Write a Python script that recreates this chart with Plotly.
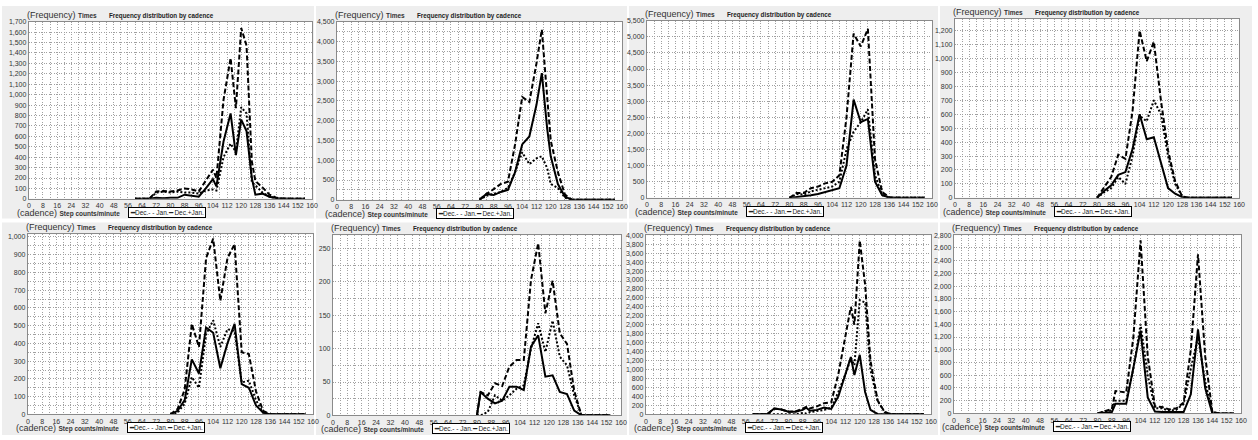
import plotly.graph_objects as go

W, H = 1258, 440

# ---------------- data ----------------
# Panel 1
p1_x   = [60, 64, 68, 72, 76, 80, 84, 88, 92, 96, 100, 104, 106, 110, 114, 117, 120, 123, 126, 128, 132, 136, 140, 144, 148, 152, 156]
p1_dec = [0, 0, 0, 10, 5, 10, 10, 40, 30, 20, 100, 190, 120, 550, 820, 420, 760, 650, 200, 40, 50, 20, 5, 0, 0, 0, 0]
p1_jan = [0, 0, 0, 60, 70, 60, 70, 60, 60, 50, 80, 90, 80, 400, 530, 450, 880, 820, 160, 130, 60, 20, 5, 0, 0, 0, 0]
p1_tot = [0, 0, 0, 70, 75, 70, 80, 100, 90, 70, 180, 280, 200, 950, 1350, 870, 1640, 1470, 360, 170, 110, 40, 10, 0, 0, 0, 0]

# Panel 2
p2_x   = [80, 84, 88, 92, 96, 100, 104, 108, 112, 115, 118, 120, 124, 128, 132, 136, 140, 144, 148, 152, 156]
p2_dec = [0, 150, 120, 200, 250, 700, 1400, 1600, 2400, 3200, 1800, 1100, 400, 80, 0, 0, 0, 0, 0, 0, 0]
p2_jan = [0, 100, 150, 200, 300, 700, 1200, 900, 1050, 1100, 800, 400, 300, 50, 0, 0, 0, 0, 0, 0, 0]
p2_tot = [0, 150, 270, 400, 460, 1400, 2600, 2470, 3450, 4300, 2600, 1500, 700, 130, 0, 0, 0, 0, 0, 0, 0]

# Panel 3
p3_x   = [80, 84, 88, 92, 96, 100, 104, 108, 112, 116, 120, 124, 128, 132, 136, 140, 144, 148, 152, 156]
p3_dec = [0, 20, 50, 80, 120, 180, 250, 300, 1000, 3050, 2350, 2450, 500, 80, 10, 0, 0, 0, 0, 0]
p3_jan = [0, 120, 100, 200, 250, 300, 350, 500, 1500, 2050, 2350, 2750, 700, 100, 10, 0, 0, 0, 0, 0]
p3_tot = [0, 150, 150, 300, 350, 450, 500, 700, 2500, 5100, 4700, 5250, 1200, 180, 20, 0, 0, 0, 0, 0]

# Panel 4
p4_x   = [80, 84, 88, 92, 96, 100, 104, 108, 112, 116, 120, 124, 128, 132, 136, 140, 144, 148, 152, 156]
p4_dec = [0, 50, 90, 165, 185, 350, 600, 420, 435, 250, 70, 30, 5, 0, 0, 0, 0, 0, 0, 0]
p4_jan = [0, 40, 70, 150, 100, 300, 590, 550, 700, 600, 300, 100, 10, 0, 0, 0, 0, 0, 0, 0]
p4_tot = [0, 80, 150, 310, 280, 620, 1200, 980, 1120, 700, 340, 120, 10, 0, 0, 0, 0, 0, 0, 0]

# Panel 5
p5_x   = [80, 84, 88, 92, 96, 100, 104, 108, 112, 116, 120, 124, 128, 132, 136, 140, 144, 148, 152, 156]
p5_dec = [0, 20, 80, 310, 230, 490, 460, 260, 400, 510, 170, 150, 50, 10, 0, 0, 0, 0, 0, 0]
p5_jan = [0, 10, 60, 210, 150, 450, 530, 380, 480, 470, 180, 190, 80, 10, 0, 0, 0, 0, 0, 0]
p5_tot = [0, 30, 140, 510, 380, 880, 990, 640, 880, 960, 350, 340, 130, 20, 0, 0, 0, 0, 0, 0]

# Panel 6
p6_x   = [80, 82, 86, 90, 94, 98, 102, 106, 110, 114, 118, 122, 126, 130, 134, 138, 142, 146, 150, 154]
p6_dec = [0, 35, 25, 18, 22, 43, 43, 38, 103, 120, 58, 60, 35, 32, 7, 0, 0, 0, 0, 0]
p6_jan = [0, 0, 5, 30, 22, 30, 40, 45, 100, 138, 95, 142, 88, 75, 30, 0, 0, 0, 0, 0]
p6_tot = [0, 35, 30, 48, 44, 73, 83, 83, 203, 258, 153, 202, 123, 107, 37, 0, 0, 0, 0, 0]

# Panel 7
p7_x   = [60, 64, 68, 72, 76, 80, 84, 88, 90, 92, 96, 100, 104, 108, 112, 115, 117, 120, 123, 126, 130, 134, 138, 142, 146, 150, 156]
p7_dec = [0, 0, 0, 130, 110, 60, 60, 100, 150, 80, 100, 150, 120, 400, 900, 1280, 880, 1330, 500, 100, 10, 0, 0, 0, 0, 0, 0]
p7_jan = [0, 0, 0, 0, 0, 0, 5, 30, 20, 50, 80, 100, 150, 500, 900, 1250, 1100, 2550, 2500, 1000, 300, 50, 0, 0, 0, 0, 0]
p7_tot = [0, 0, 0, 130, 110, 60, 65, 130, 170, 130, 180, 250, 270, 900, 1800, 2400, 2000, 3880, 2900, 1200, 310, 50, 5, 0, 0, 0, 0]

# Panel 8
p8_x   = [80, 84, 88, 90, 96, 100, 104, 108, 112, 116, 120, 124, 128, 132, 136, 140, 144, 148, 152, 156]
p8_dec = [0, 10, 20, 150, 150, 720, 1300, 250, 30, 20, 20, 20, 20, 300, 1320, 400, 0, 0, 0, 0]
p8_jan = [0, 30, 50, 200, 200, 700, 1400, 600, 80, 80, 40, 60, 150, 700, 1200, 500, 20, 0, 0, 0]
p8_tot = [0, 40, 70, 350, 330, 1200, 2720, 900, 110, 100, 60, 80, 170, 1000, 2500, 900, 20, 0, 0, 0]

series_names = ["Dec.", "Jan.", "Dec.+Jan."]
x_ticks = list(range(0, 161, 8))

data = [
    (p1_x, p1_dec, p1_jan, p1_tot),
    (p2_x, p2_dec, p2_jan, p2_tot),
    (p3_x, p3_dec, p3_jan, p3_tot),
    (p4_x, p4_dec, p4_jan, p4_tot),
    (p5_x, p5_dec, p5_jan, p5_tot),
    (p6_x, p6_dec, p6_jan, p6_tot),
    (p7_x, p7_dec, p7_jan, p7_tot),
    (p8_x, p8_dec, p8_jan, p8_tot),
]

# ---------------- layout (pixels) ----------------
plot_px = [
    (27, 312, 18, 198), (337, 624, 18, 199), (649, 936, 17, 197), (959, 1245, 15, 197),
    (26, 313, 234, 417), (333, 623, 235, 418), (648, 935, 235, 417), (958, 1247, 235, 416),
]
y_axes = [
    (1700, 100, None), (4500, 500, 250), (5500, 500, None), (1285, 100, None),
    (1015, 100, 50), (270, 50, 25), (4000, 200, None), (2800, 200, None),
]
cards = [
    (0, 314, 2, 218), (316, 629, 2, 218), (631, 942, 2, 218), (944, 1258, 2, 218),
    (0, 314, 222, 438), (316, 629, 222, 438), (631, 942, 222, 438), (944, 1258, 222, 438),
]

def fx(px):
    return px / W

def fy(py):
    return 1 - py / H

styles = [
    dict(color="black", width=2, dash="solid"),
    dict(color="black", width=2, dash="2px,2px"),
    dict(color="black", width=2, dash="5px,2.5px"),
]

fig = go.Figure()
shapes = []
annotations = []
FONT = "Liberation Sans, Arial, sans-serif"
GRID = "#a0a0a0"
GDASH = "1px,1.5px"

for c in cards:
    shapes.append(dict(type="rect", xref="paper", yref="paper", layer="below",
                       x0=fx(c[0]), x1=fx(c[1]), y0=fy(c[3]), y1=fy(c[2]),
                       fillcolor="#eeeeee", line=dict(width=0)))

for i, (xs, dec, jan, tot) in enumerate(data):
    n = i + 1
    xa = "x" if n == 1 else f"x{n}"
    ya = "y" if n == 1 else f"y{n}"
    for k, ys in enumerate([dec, jan, tot]):
        fig.add_trace(go.Scatter(x=xs, y=ys, mode="lines", name=series_names[k],
                                 line=styles[k], xaxis=xa, yaxis=ya, showlegend=False))
    l, r, t, b = plot_px[i]
    ymax, dt, mdt = y_axes[i]
    xkey = "xaxis" if n == 1 else f"xaxis{n}"
    ykey = "yaxis" if n == 1 else f"yaxis{n}"
    fig.layout[xkey] = dict(
        domain=[fx(l), fx(r)], anchor=ya, range=[0, 160], tickvals=x_ticks,
        showgrid=True, gridcolor=GRID, griddash=GDASH, gridwidth=1,
        minor=dict(dtick=4, tick0=0, showgrid=True, gridcolor=GRID, griddash=GDASH, gridwidth=1),
        showline=True, linecolor="#8a8a8a", linewidth=1, mirror=True, zeroline=False,
        ticks="", tickangle=0, tickfont=dict(family=FONT, size=7, color="#333"),
    )
    ydict = dict(
        domain=[fy(b), fy(t)], anchor=xa, range=[0, ymax], dtick=dt, tick0=0,
        tickformat=",d", showgrid=True, gridcolor=GRID, griddash=GDASH, gridwidth=1,
        showline=True, linecolor="#8a8a8a", linewidth=1, mirror=True, zeroline=False,
        ticks="", tickfont=dict(family=FONT, size=7, color="#333"),
    )
    if mdt:
        ydict["minor"] = dict(dtick=mdt, tick0=0, showgrid=True, gridcolor=GRID, griddash=GDASH, gridwidth=1)
    fig.layout[ykey] = ydict

    shapes.append(dict(type="rect", xref=f"{xa} domain", yref=f"{ya} domain", layer="below",
                       x0=0, x1=1, y0=0, y1=1, fillcolor="white", line=dict(width=0)))

    annotations.append(dict(
        xref="paper", yref="paper", x=fx(l - 4), y=fy(t - 7), xanchor="left", yanchor="middle",
        text="(Frequency) <b><span style='font-size:6.5px'>Times</span></b>",
        showarrow=False, font=dict(family=FONT, size=9, color="#333")))
    annotations.append(dict(
        xref="paper", yref="paper", x=fx(l + 79), y=fy(t - 6), xanchor="left", yanchor="middle",
        text="<b>Frequency distribution by cadence</b>", showarrow=False,
        font=dict(family=FONT, size=6.3, color="#222")))
    annotations.append(dict(
        xref="paper", yref="paper", x=fx(l - 14), y=fy(b + 14), xanchor="left", yanchor="middle",
        text="(cadence) <b><span style='font-size:6.5px'>Step counts/minute</span></b>",
        showarrow=False, font=dict(family=FONT, size=9, color="#333")))
    annotations.append(dict(
        xref="paper", yref="paper", x=fx(l + 100), y=fy(b + 13.5), xanchor="left", yanchor="middle",
        text="<b>━</b>Dec.- - Jan.━ Dec.+Jan.", showarrow=False,
        bordercolor="black", borderwidth=1, borderpad=1, bgcolor="white",
        font=dict(family=FONT, size=6.5, color="#222")))

fig.update_layout(
    width=W, height=H, margin=dict(l=0, r=0, t=0, b=0),
    paper_bgcolor="white", plot_bgcolor="rgba(0,0,0,0)",
    shapes=shapes, annotations=annotations, showlegend=False,
)

fig.write_html("out.html", config={"displayModeBar": False},
               post_script="document.body.style.margin='0';document.body.style.padding='0';")
